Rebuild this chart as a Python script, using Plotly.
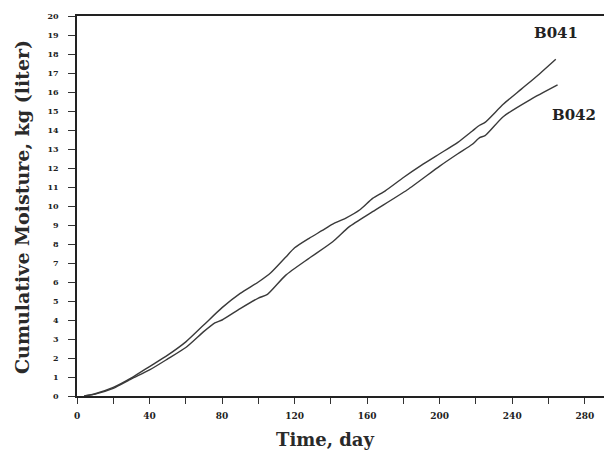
import plotly.graph_objects as go

# Data
b041_t = [4, 10, 20, 30, 40, 50, 60, 70, 80, 90, 100, 107, 115, 120, 128, 135, 141, 148, 156, 163, 170, 180, 190, 200, 210, 218, 222, 225, 235, 245, 255, 264]
b041_v = [0, 0.12, 0.45, 0.95, 1.55, 2.15, 2.85, 3.75, 4.65, 5.4, 6.0, 6.5, 7.3, 7.8, 8.3, 8.7, 9.05, 9.35, 9.8, 10.4, 10.8, 11.5, 12.15, 12.75, 13.35, 13.95, 14.25, 14.4, 15.35, 16.15, 16.95, 17.72]

b042_t = [4, 10, 20, 30, 40, 50, 60, 70, 76, 80, 90, 100, 105, 115, 128, 141, 150, 163, 182, 200, 210, 218, 222, 225, 235, 250, 265]
b042_v = [0, 0.1, 0.4, 0.9, 1.37, 1.95, 2.55, 3.4, 3.85, 4.0, 4.6, 5.15, 5.35, 6.35, 7.25, 8.12, 8.9, 9.7, 10.84, 12.1, 12.75, 13.25, 13.6, 13.7, 14.7, 15.6, 16.37]

x_tickvals = list(range(0, 281, 20))
x_ticktext = [str(v) if v % 40 == 0 else "" for v in x_tickvals]
y_tickvals = list(range(0, 21))
y_ticktext = [str(v) for v in y_tickvals]

series_names = ["B041", "B042"]
label_pos = [(264, 19.1), (274, 14.8)]

x_title = "Time, day"
y_title = "Cumulative Moisture, kg (liter)"

serif = "DejaVu Serif"
line_col = "#3a3a3a"

fig = go.Figure()
for name, t, v in [(series_names[0], b041_t, b041_v), (series_names[1], b042_t, b042_v)]:
    fig.add_trace(go.Scatter(x=t, y=v, mode="lines", name=name,
                             line=dict(color=line_col, width=1.4, shape="spline", smoothing=0.6),
                             showlegend=False))

for name, (lx, ly) in zip(series_names, label_pos):
    fig.add_annotation(x=lx, y=ly, text="<b>" + name + "</b>", showarrow=False,
                       font=dict(family=serif, size=15, color="#222"))

# axis titles as annotations (the x title sits left of centre in the reference)
fig.add_annotation(xref="paper", yref="paper", x=0.465, y=-0.115,
                   xanchor="center", yanchor="middle", showarrow=False,
                   text="<b>" + x_title + "</b>",
                   font=dict(family=serif, size=18, color="#2a2a2a"))
fig.add_annotation(xref="paper", yref="paper", x=-0.103, y=0.497,
                   xanchor="center", yanchor="middle", showarrow=False, textangle=-90,
                   text="<b>" + y_title + "</b>",
                   font=dict(family=serif, size=19, color="#2a2a2a"))

# the page body has an 8px margin, so the figure is sized/offset to compensate
fig.update_layout(
    width=604, height=445,
    margin=dict(l=69, r=0, t=8, b=57),
    paper_bgcolor="white", plot_bgcolor="white",
    xaxis=dict(range=[0, 295], tickvals=x_tickvals, ticktext=x_ticktext,
               ticks="outside", ticklen=6, tickcolor="#333", tickwidth=1,
               showline=True, linecolor="#222", linewidth=1.5, mirror=True,
               showgrid=False, zeroline=False, automargin=False,
               ticklabelstandoff=4,
               tickfont=dict(family=serif, size=9, color="#222", weight="bold")),
    yaxis=dict(range=[0, 20], tickvals=y_tickvals, ticktext=y_ticktext,
               ticks="outside", ticklen=7, tickcolor="#333", tickwidth=1,
               showline=True, linecolor="#222", linewidth=1.5,
               showgrid=False, zeroline=False, automargin=False,
               ticklabelstandoff=8,
               tickfont=dict(family=serif, size=8, color="#222", weight="bold")),
)

fig.write_html("out.html")
